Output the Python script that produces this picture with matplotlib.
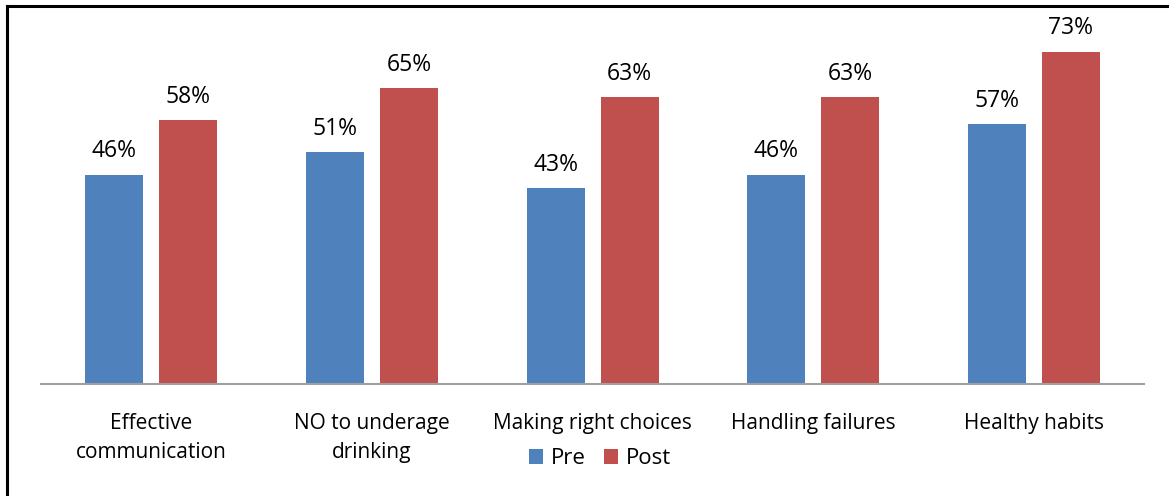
import matplotlib
matplotlib.use("Agg")
import matplotlib.pyplot as plt
from matplotlib.lines import Line2D
from matplotlib.patches import Patch
import numpy as np

categories = ["Effective\ncommunication", "NO to underage\ndrinking", "Making right choices",
              "Handling failures", "Healthy habits"]
pre = [0.46, 0.51, 0.43, 0.46, 0.57]
post = [0.58, 0.65, 0.63, 0.63, 0.73]
series_names = ["Pre", "Post"]
colors = ["#4F81BD", "#C0504D"]

plt.rcParams['font.family'] = ['Open Sans', 'DejaVu Sans']

W, H = 1169, 496
fig = plt.figure(figsize=(W / 100, H / 100), dpi=100)
ax = fig.add_axes([41 / W, 112 / H, (1144 - 41) / W, (384 - 22) / H])

x = np.arange(len(categories))
bw = 58 / 220.6
off = 37 / 220.6
b1 = ax.bar(x - off, pre, bw, color=colors[0], label=series_names[0])
b2 = ax.bar(x + off, post, bw, color=colors[1], label=series_names[1])

for bars, vals in ((b1, pre), (b2, post)):
    for r, v in zip(bars, vals):
        ax.annotate(f"{round(v * 100)}%", (r.get_x() + r.get_width() / 2, v),
                    xytext=(0, 8), textcoords="offset points",
                    ha="center", va="bottom", fontsize=16.5, color="black")

ax.set_xlim(-0.5, len(categories) - 0.5)
ax.set_ylim(0, 0.795)
ax.set_yticks([])
ax.set_xticks(x)
ax.set_xticklabels(categories, fontsize=15, linespacing=1.5)
ax.tick_params(axis="x", length=0, pad=21)
for s in ("top", "right", "left"):
    ax.spines[s].set_visible(False)
ax.spines["bottom"].set_color("#A0A0A0")
ax.spines["bottom"].set_linewidth(1.5)

handles = [Patch(facecolor=c, label=n) for c, n in zip(colors, series_names)]
fig.legend(handles=handles, loc="center", bbox_to_anchor=(600 / W, 1 - 459 / H),
           ncol=2, frameon=False, fontsize=16, handlelength=0.65, handleheight=0.65,
           handletextpad=0.35, columnspacing=0.8)

# outer frame (left and top edges visible)
fig.add_artist(Line2D([6.5 / W, 6.5 / W], [0, 1 - 6 / H], transform=fig.transFigure,
                      color="black", linewidth=2.2))
fig.add_artist(Line2D([6.5 / W, 1], [1 - 6 / H, 1 - 6 / H], transform=fig.transFigure,
                      color="black", linewidth=2.2))

fig.savefig("out.png", dpi=100)
